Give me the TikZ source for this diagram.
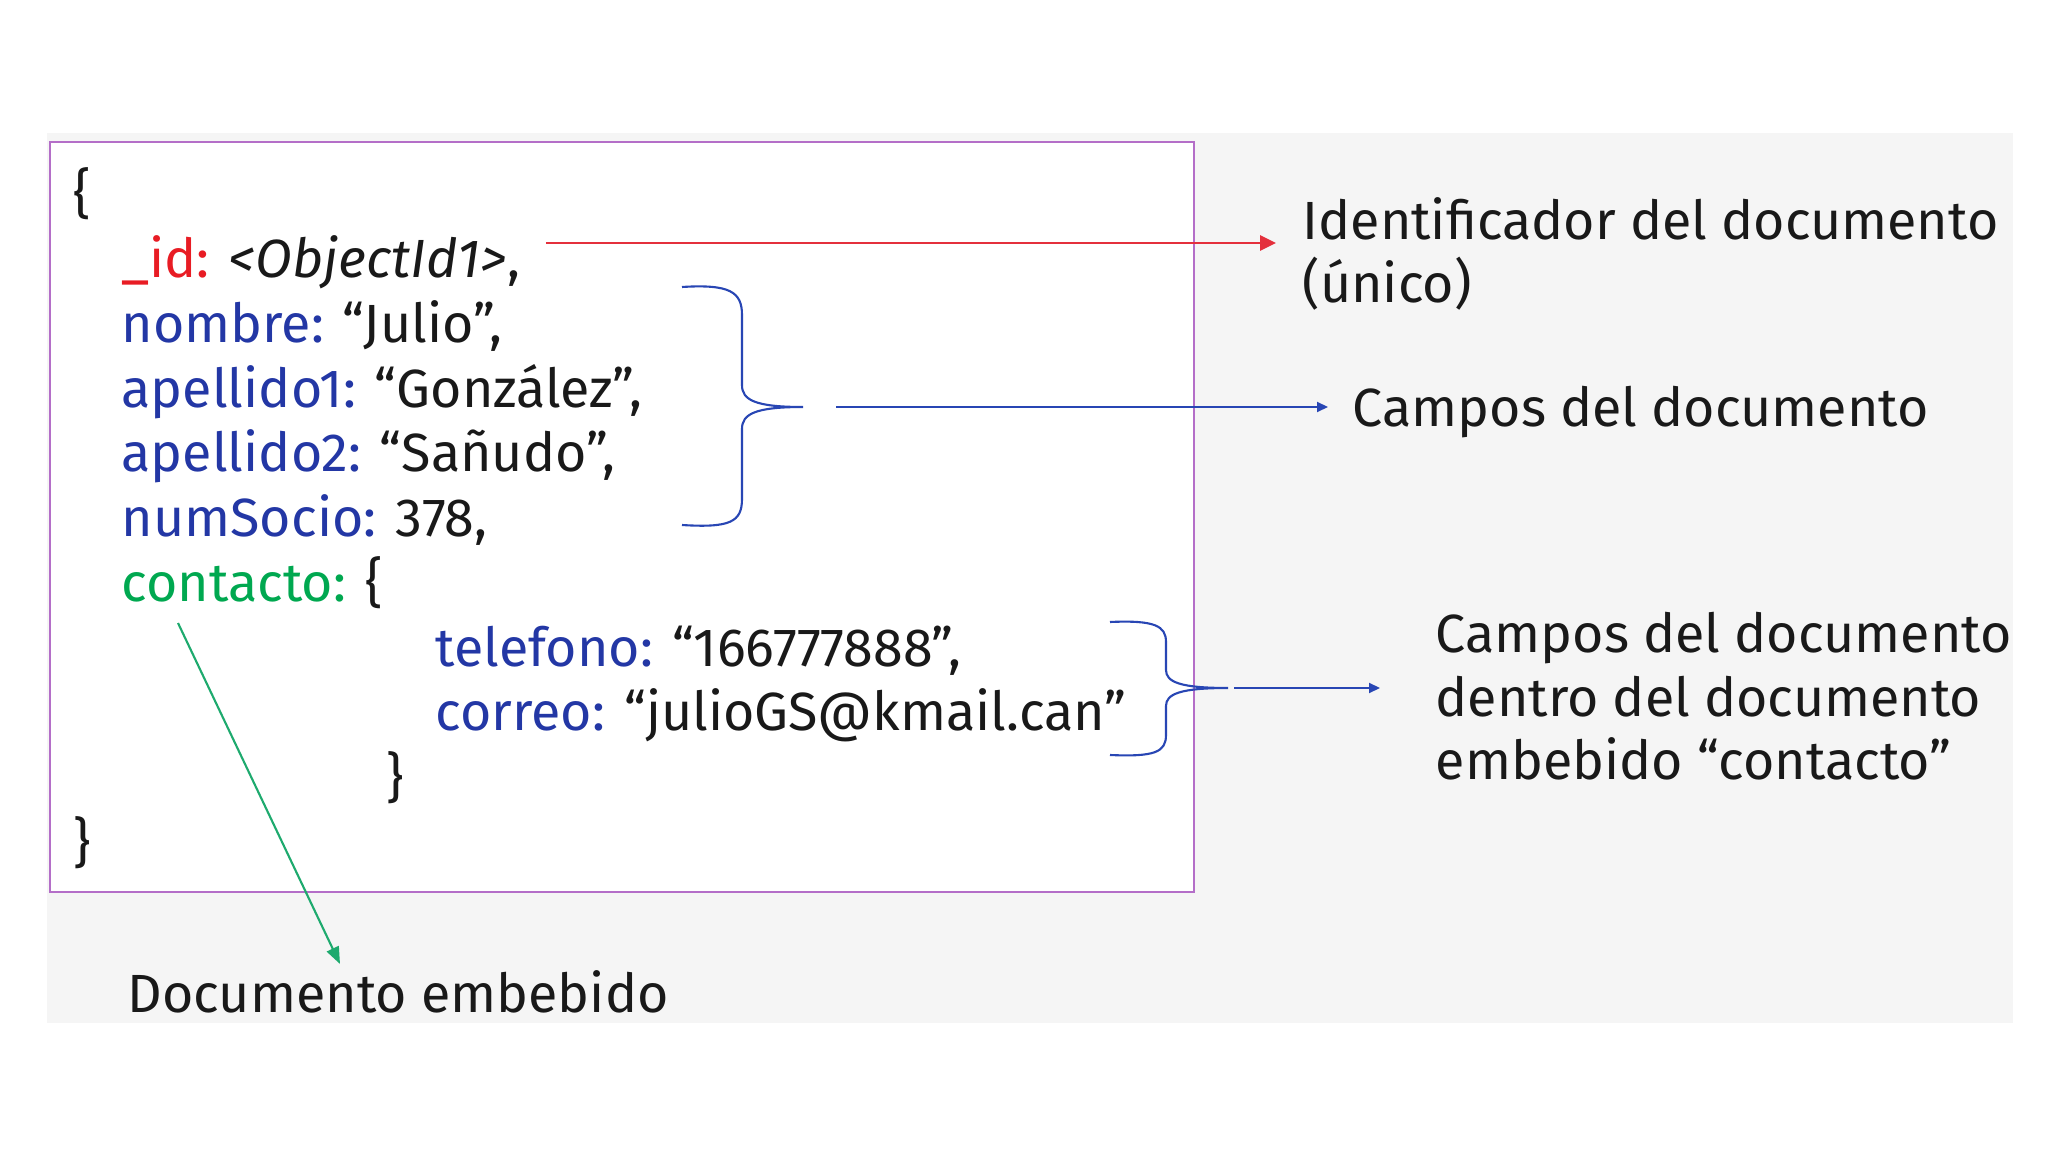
\documentclass[tikz,border=0pt]{standalone}
\usepackage{fontspec}
\setmainfont{Fira Sans}
\usetikzlibrary{arrows.meta}
\definecolor{keyblue}{RGB}{35,55,165}
\definecolor{keyred}{RGB}{232,28,36}
\definecolor{keygreen}{RGB}{0,168,80}
\definecolor{boxviolet}{RGB}{180,110,200}
\definecolor{arrred}{RGB}{228,48,60}
\definecolor{arrblue}{RGB}{40,70,180}
\definecolor{arrgreen}{RGB}{30,170,110}
\definecolor{bggray}{RGB}{245,245,245}
\newcommand{\kb}[1]{\textcolor{keyblue}{#1}}

\begin{document}
\begin{tikzpicture}[x=1cm, y=-1cm,
	txt/.style={anchor=base west, inner sep=0pt, text=black!90, font=\fontsize{15.3}{18.2}\selectfont},
	lbl/.style={txt, align=left},
	brace/.style={arrblue, line width=0.6pt},
	idarrow/.style={arrred, line width=0.8pt, -{Triangle[length=0.16cm,width=0.15cm]}},
	fldarrow/.style={arrblue, line width=0.6pt, -{Triangle[length=0.11cm,width=0.10cm]}},
	embarrow/.style={arrgreen, line width=0.6pt, -{Triangle[length=0.17cm,width=0.13cm]}}]
	\useasboundingbox (0,0) rectangle (20.48,11.52);
	\fill [bggray] (0.47,1.33) rectangle (20.13,10.23);
	\draw [boxviolet, fill=white, line width=0.6pt] (0.50,1.42) rectangle (11.94,8.92);
	% the document
	\node [txt] (open) at (0.73,2.13) {\{};
	\node [txt] (id) at (1.21,2.78) {\textcolor{keyred}{\_id:} \textit{<ObjectId1>},};
	\node [txt] (nombre) at (1.21,3.43) {\kb{nombre:} “Julio”,};
	\node [txt] (ap1) at (1.21,4.07) {\kb{apellido1:} “González”,};
	\node [txt] (ap2) at (1.21,4.72) {\kb{apellido2:} “Sañudo”,};
	\node [txt] (num) at (1.21,5.37) {\kb{numSocio:} 378,};
	\node [txt] (cont) at (1.21,6.02) {\textcolor{keygreen}{contacto:} \{};
	\node [txt] (tel) at (4.35,6.66) {\kb{telefono:} “166777888”,};
	\node [txt] (corr) at (4.35,7.31) {\kb{correo:} “julioGS@kmail.can”};
	\node [txt] (close1) at (3.86,7.96) {\}};
	\node [txt] (close0) at (0.73,8.61) {\}};
	% labels (base = last line)
	\node [lbl] (ident) at (13.02,3.03) {Identificador del documento\\(único)};
	\node [txt] (campos) at (13.52,4.27) {Campos del documento};
	\node [lbl] (sub) at (14.35,7.80) {Campos del documento\\dentro del documento\\embebido “contacto”};
	\node [txt] (emb) at (1.27,10.12) {Documento embebido};
	% braces
	\coordinate (fldtip) at (8.03,4.07);
	\coordinate (subtip) at (12.28,6.88);
	\draw [brace] (6.82,2.87) .. controls (7.30,2.84) and (7.42,2.92) .. (7.42,3.15) -- (7.42,3.85)
		.. controls (7.42,4.00) and (7.55,4.07) .. (fldtip)
		.. controls (7.55,4.07) and (7.42,4.14) .. (7.42,4.29) -- (7.42,4.99)
		.. controls (7.42,5.22) and (7.30,5.28) .. (6.82,5.25);
	\draw [brace] (11.10,6.22) .. controls (11.55,6.20) and (11.66,6.26) .. (11.66,6.42) -- (11.66,6.70)
		.. controls (11.66,6.82) and (11.80,6.88) .. (subtip)
		.. controls (11.80,6.88) and (11.66,6.94) .. (11.66,7.06) -- (11.66,7.35)
		.. controls (11.66,7.52) and (11.55,7.57) .. (11.10,7.55);
	% arrows
	\coordinate (idrow) at (0,2.43);
	\coordinate (embtip) at (3.40,9.64);
	\draw [idarrow, shorten <=0.25cm, shorten >=0.26cm] (id.east |- idrow) -- (ident.west |- idrow);
	\draw [fldarrow, shorten <=0.33cm, shorten >=0.24cm] (fldtip) -- (campos.west |- fldtip);
	\draw [fldarrow, shorten <=0.06cm, shorten >=0.55cm] (subtip) -- (sub.west |- subtip);
	\draw [embarrow] ([shift={(0.57,0.21)}]cont.base west) -- (embtip);
\end{tikzpicture}
\end{document}
